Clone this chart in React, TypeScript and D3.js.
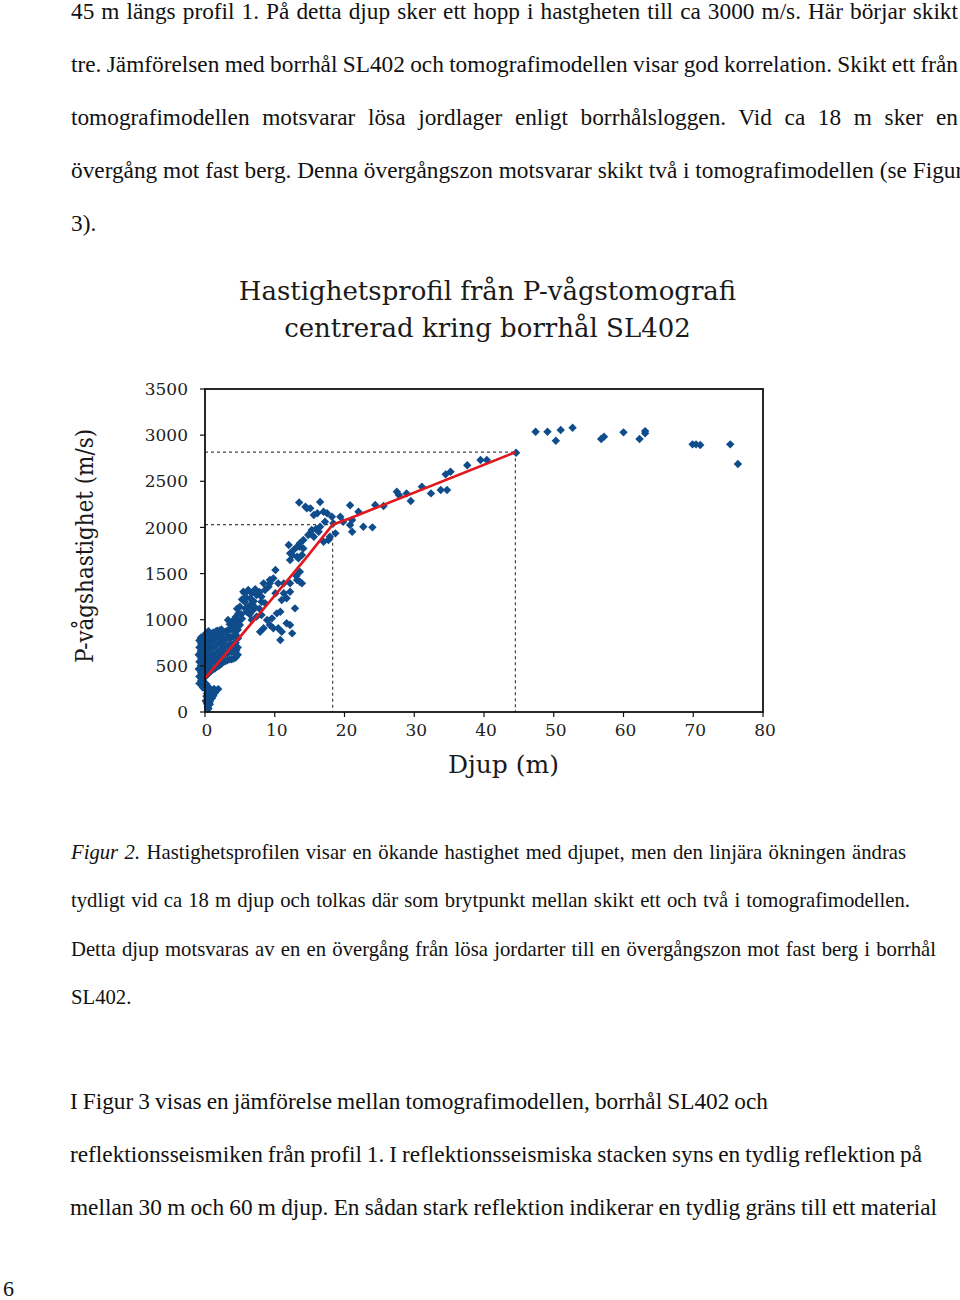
import React, { useLayoutEffect, useRef } from 'react';
import * as d3 from 'd3';

// ---- data (depth m, P-wave velocity m/s) ----
const xTicks = [0, 10, 20, 30, 40, 50, 60, 70, 80];
const yTicks = [0, 500, 1000, 1500, 2000, 2500, 3000, 3500];

const nearSurface: [number, number][] = [
  [-0.8, 310], [-0.8, 385], [-0.9, 465], [-0.8, 545], [-0.9, 620], [-0.8, 700], [-0.8, 775],
  [-0.3, 265], [-0.3, 345], [-0.4, 420], [-0.3, 500], [-0.3, 585], [-0.4, 660], [-0.3, 740], [-0.3, 815],
  [0.2, 300], [0.2, 395], [0.3, 480], [0.2, 560], [0.3, 640], [0.2, 720], [0.3, 800], [0.3, 860],
  [0.8, 440], [0.8, 520], [0.9, 600], [0.8, 680], [0.8, 760], [0.9, 845],
  [1.4, 470], [1.4, 550], [1.5, 630], [1.4, 710], [1.4, 790], [1.5, 870],
  [2.0, 500], [2.0, 580], [2.1, 660], [2.0, 740], [2.0, 820], [2.1, 885],
  [2.6, 540], [2.6, 620], [2.7, 700], [2.6, 780], [2.6, 860],
  [3.2, 560], [3.2, 640], [3.3, 720], [3.2, 800], [3.2, 880],
  [3.8, 570], [3.8, 650], [3.9, 730], [3.8, 810], [3.8, 900], [3.9, 975],
  [4.4, 590], [4.5, 670], [4.4, 750], [4.4, 840], [4.5, 940], [4.4, 1030],
  [-0.55, 345], [-0.55, 425], [-0.6, 505], [-0.55, 585], [-0.6, 660], [-0.55, 740], [-0.6, 805],
  [-0.05, 300], [-0.05, 380], [0.0, 460], [-0.05, 540], [0.0, 620], [-0.05, 700], [0.0, 780], [0.0, 840],
  [0.5, 420], [0.5, 500], [0.55, 580], [0.5, 660], [0.5, 740], [0.55, 820], [0.5, 875],
  [1.1, 460], [1.1, 540], [1.15, 620], [1.1, 700], [1.1, 780], [1.15, 860],
  [1.7, 490], [1.7, 570], [1.75, 650], [1.7, 730], [1.7, 810], [1.75, 880],
  [2.3, 520], [2.3, 600], [2.35, 680], [2.3, 760], [2.3, 840], [2.35, 895],
  [2.9, 550], [2.9, 630], [2.95, 710], [2.9, 790], [2.9, 870],
  [3.5, 570], [3.5, 650], [3.55, 730], [3.5, 810], [3.5, 890], [3.55, 950],
  [4.1, 580], [4.1, 660], [4.15, 740], [4.1, 820], [4.1, 920], [4.15, 1000],
  [4.7, 620], [4.7, 700], [4.75, 800], [4.7, 890], [4.7, 980],
];

const shallowLow: [number, number][] = [
  [0.1, 250], [0.7, 255], [1.3, 250], [1.9, 248], [0.3, 200], [0.9, 195], [1.4, 205],
  [0.4, 140], [1.0, 150], [0.3, 90], [0.7, 85], [0.4, 55],
  [0.4, 230], [1.0, 230], [1.6, 232], [0.6, 170], [1.2, 175], [0.7, 115], [0.2, 170],
  [0.1, 120], [0.5, 35],
];

const layerOne: [number, number][] = [
  [4.8, 1069], [6.2, 1141], [8.1, 1195], [3.3, 997], [5.0, 1141], [5.7, 1195], [6.5, 1159],
  [6.0, 1087], [6.9, 1105], [7.4, 1033], [6.7, 997], [8.1, 1051], [8.9, 997], [9.6, 1015],
  [10.3, 1069], [10.8, 1087], [12.9, 1123], [9.3, 943], [9.8, 907], [11.7, 961], [11.0, 870],
  [10.8, 780], [8.4, 907], [7.9, 870], [5.0, 943], [4.1, 888], [3.1, 852], [3.6, 798],
  [2.6, 762], [4.3, 744], [12.5, 852], [12.2, 943], [10.5, 907], [5.5, 1303], [6.2, 1322],
  [6.7, 1286], [7.4, 1268], [8.1, 1249], [10.1, 1286], [12.2, 1303], [11.7, 1232], [11.0, 1213],
  [8.6, 1322], [9.1, 1358], [9.3, 1394], [11.3, 1394], [9.8, 1448], [10.1, 1538], [8.4, 1394],
  [9.3, 1430], [10.5, 1394], [12.2, 1394], [11.3, 1286], [13.2, 1430], [13.6, 1412], [13.9, 1394],
  [13.1, 1473], [13.6, 1520], [5.7, 1286], [5.3, 1010], [7.0, 1200],
  [5.2, 1060], [5.8, 1120], [6.4, 1060], [7.1, 1140], [7.8, 1120], [5.9, 1240], [6.5, 1230],
  [7.2, 1330], [7.8, 1300], [8.6, 1180], [4.6, 1120], [5.3, 1220],
];

const breakZone: [number, number][] = [
  [12.0, 1809], [13.6, 1791], [12.5, 1701], [13.2, 1683], [13.9, 1701], [12.7, 1755],
  [12.2, 1647], [13.4, 1665], [14.1, 1773], [12.2, 1719], [13.2, 1791], [14.1, 1863],
  [14.8, 1918], [15.3, 1972], [13.6, 1828], [13.5, 2270], [14.4, 2224], [15.1, 2207],
  [16.5, 2275], [15.6, 2134], [16.1, 2153], [17.0, 2170], [17.5, 2153], [18.2, 2116],
  [17.2, 2062], [18.4, 2044], [20.8, 2240], [22.0, 2170], [21.1, 2080], [22.7, 2008],
  [24.0, 2001], [20.8, 2026], [21.1, 1953], [18.7, 1936], [16.5, 2008], [16.3, 1953],
  [15.6, 1899], [15.1, 1936], [17.7, 1863], [17.0, 1845], [15.9, 1983], [17.9, 1899],
  [14.6, 2207], [19.4, 2116], [19.8, 2060],
];

const layerTwo: [number, number][] = [
  [24.4, 2243], [25.6, 2232], [27.5, 2387], [27.8, 2351], [28.9, 2369], [29.5, 2286],
  [31.1, 2441], [32.4, 2369], [33.8, 2405], [34.7, 2405], [34.5, 2575], [35.2, 2604],
  [37.6, 2673], [39.5, 2730], [40.4, 2730], [44.6, 2810],
];

const deepRock: [number, number][] = [
  [47.4, 3037], [49.1, 3037], [50.3, 2940], [51.0, 3055], [52.7, 3080], [56.8, 2958],
  [57.2, 2983], [60.0, 3030], [62.3, 2958], [63.1, 3044], [63.1, 3020], [69.9, 2900],
  [70.4, 2900], [71.0, 2893], [75.3, 2900], [76.4, 2687],
];

const fitDepth = [0, 9.6, 14.5, 18.3, 20.8, 44.5];
const fitVelocity = [365, 1225, 1670, 2030, 2100, 2815];

const breakpoints: [number, number][] = [
  [18.3, 2030],
  [44.5, 2815],
];

const topLines = [
  '45 m längs profil 1. På detta djup sker ett hopp i hastgheten till ca 3000 m/s. Här börjar skikt',
  'tre. Jämförelsen med borrhål SL402 och tomografimodellen visar god korrelation. Skikt ett från',
  'tomografimodellen motsvarar lösa jordlager enligt borrhålsloggen. Vid ca 18 m sker en',
  'övergång mot fast berg. Denna övergångszon motsvarar skikt två i tomografimodellen (se Figur',
  '3).',
];
const captionLines = [
  ' Hastighetsprofilen visar en ökande hastighet med djupet, men den linjära ökningen ändras',
  'tydligt vid ca 18 m djup och tolkas där som brytpunkt mellan skikt ett och två i tomografimodellen.',
  'Detta djup motsvaras av en en övergång från lösa jordarter till en övergångszon mot fast berg i borrhål',
  'SL402.',
];
const bottomLines = [
  'I Figur 3 visas en jämförelse mellan tomografimodellen, borrhål SL402 och',
  'reflektionsseismiken från profil 1. I reflektionsseismiska stacken syns en tydlig reflektion på',
  'mellan 30 m och 60 m djup. En sådan stark reflektion indikerar en tydlig gräns till ett material',
];

const BODY_FONT = '"Liberation Serif", "Times New Roman", serif';
const CHART_FONT = '"DejaVu Serif", serif';

export default function App() {
  const ref = useRef<SVGSVGElement>(null);

  useLayoutEffect(() => {
    const fit = () => {
      const svg = ref.current;
      if (!svg) return;
      svg.querySelectorAll('text[data-w]').forEach((node) => {
        const el = node as SVGTextElement;
        const target = +(el.getAttribute('data-w') || 0);
        el.setAttribute('word-spacing', '0');
        const nat = el.getComputedTextLength();
        const spaces = ((el.textContent || '').match(/ /g) || []).length;
        if (spaces) el.setAttribute('word-spacing', String((target - nat) / spaces));
      });
    };
    fit();
    if ((document as any).fonts && (document as any).fonts.ready) {
      (document as any).fonts.ready.then(fit);
    }
  }, []);

  const x = d3.scaleLinear().domain([0, 80]).range([205, 763]);
  const y = d3.scaleLinear().domain([0, 3500]).range([712, 389]);

  const line = d3
    .line<number>()
    .x((_, i) => x(fitDepth[i]))
    .y((v) => y(v));

  const r = 4.2;
  const diamond = `M0,${-r}L${r},0L0,${r}L${-r},0Z`;
  const allPoints = [...nearSurface, ...shallowLow, ...layerOne, ...breakZone, ...layerTwo, ...deepRock];

  const bodyLeft = 71;

  return (
    <svg
      ref={ref}
      width={960}
      height={1300}
      style={{ position: 'absolute', left: 0, top: 0, background: '#fff' }}
    >
      <rect x={0} y={0} width={960} height={1300} fill="#fff" />

      {/* top paragraph */}
      <g fontFamily={BODY_FONT} fontSize={23.3} fill="#111">
        {topLines.map((t, i) => (
          <text key={i} x={bodyLeft} y={19 + i * 53} {...(i < 3 ? { 'data-w': 887 } : {})}>
            {t}
          </text>
        ))}
      </g>

      {/* chart title */}
      <g fontFamily={CHART_FONT} fontSize={26} fill="#1a1a1a" textAnchor="middle">
        <text x={487.5} y={300}>Hastighetsprofil från P-vågstomografi</text>
        <text x={487.5} y={337}>centrerad kring borrhål SL402</text>
      </g>

      {/* dashed reference lines */}
      <g stroke="#444" strokeWidth={1.2} strokeDasharray="3,3" fill="none">
        {breakpoints.map(([d, v], i) => (
          <g key={i}>
            <line x1={x(0)} x2={x(d)} y1={y(v)} y2={y(v)} />
            <line x1={x(d)} x2={x(d)} y1={y(v)} y2={y(0)} />
          </g>
        ))}
      </g>

      {/* points */}
      <g fill="#0f4c8c">
        {allPoints.map(([d, v], i) => (
          <path key={i} d={diamond} transform={`translate(${x(d)},${y(v)})`} />
        ))}
      </g>

      {/* fitted line */}
      <path d={line(fitVelocity) || ''} fill="none" stroke="#e0191e" strokeWidth={2.6} />

      {/* frame */}
      <rect x={x(0)} y={y(3500)} width={x(80) - x(0)} height={y(0) - y(3500)} fill="none" stroke="#111" strokeWidth={1.8} />

      {/* y axis */}
      <g fontFamily={CHART_FONT} fontSize={17} fill="#222">
        {yTicks.map((t) => (
          <g key={t}>
            <line x1={x(0) - 5} x2={x(0)} y1={y(t)} y2={y(t)} stroke="#111" strokeWidth={1.2} />
            <text x={188} y={y(t)} dy="0.36em" textAnchor="end">{t}</text>
          </g>
        ))}
      </g>

      {/* x axis */}
      <g fontFamily={CHART_FONT} fontSize={17} fill="#222">
        {xTicks.map((t) => (
          <g key={t}>
            <line x1={x(t)} x2={x(t)} y1={y(0)} y2={y(0) + 5} stroke="#111" strokeWidth={1.2} />
            <text x={x(t) + 2} y={736} textAnchor="middle">{t}</text>
          </g>
        ))}
      </g>

      {/* axis titles */}
      <text x={503.5} y={773} fontFamily={CHART_FONT} fontSize={25} textAnchor="middle" fill="#1a1a1a">
        Djup (m)
      </text>
      <text
        transform="translate(93,546) rotate(-90)"
        fontFamily={CHART_FONT}
        fontSize={25}
        textAnchor="middle"
        textLength={234}
        lengthAdjust="spacingAndGlyphs"
        fill="#1a1a1a"
      >
        P-vågshastighet (m/s)
      </text>

      {/* caption */}
      <g fontFamily={BODY_FONT} fontSize={20.7} fill="#111">
        <text x={bodyLeft} y={859} data-w={835}>
          <tspan fontStyle="italic">Figur 2.</tspan>
          {captionLines[0]}
        </text>
        <text x={bodyLeft} y={907} data-w={839}>{captionLines[1]}</text>
        <text x={bodyLeft} y={956} data-w={865}>{captionLines[2]}</text>
        <text x={bodyLeft} y={1004}>{captionLines[3]}</text>
      </g>

      {/* bottom paragraph */}
      <g fontFamily={BODY_FONT} fontSize={23.3} fill="#111">
        <text x={70} y={1109} data-w={698}>{bottomLines[0]}</text>
        <text x={70} y={1162} data-w={852}>{bottomLines[1]}</text>
        <text x={70} y={1215} data-w={867}>{bottomLines[2]}</text>
      </g>

      <text x={3} y={1296} fontFamily={BODY_FONT} fontSize={22} fill="#111">6</text>
    </svg>
  );
}
